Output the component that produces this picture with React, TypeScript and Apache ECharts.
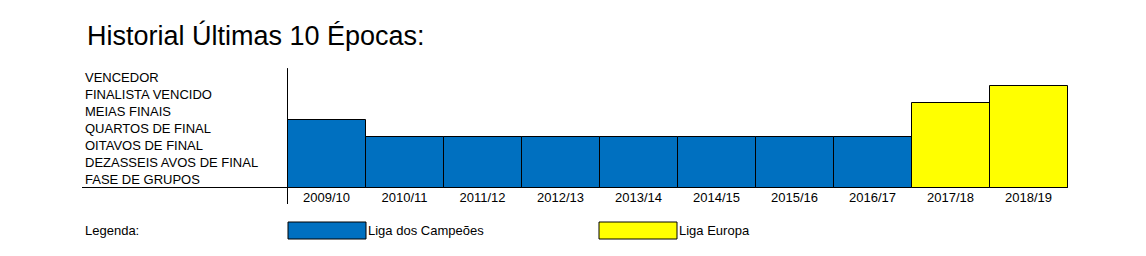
import React, { useEffect, useRef } from "react";
import * as echarts from "echarts";

const seasons = ["2009/10", "2010/11", "2011/12", "2012/13", "2013/14", "2014/15", "2015/16", "2016/17", "2017/18", "2018/19"];
const stages = ["FASE DE GRUPOS", "DEZASSEIS AVOS DE FINAL", "OITAVOS DE FINAL", "QUARTOS DE FINAL", "MEIAS FINAIS", "FINALISTA VENCIDO", "VENCEDOR"];
// stage reached (1 = fase de grupos ... 7 = vencedor)
const championsLeague: (number | null)[] = [4, 3, 3, 3, 3, 3, 3, 3, null, null];
const europaLeague: (number | null)[] = [null, null, null, null, null, null, null, null, 5, 6];
const seriesNames = ["Liga dos Campeões", "Liga Europa"];
const seriesColors = ["#0070C0", "#FFFF00"];
const titleText = "Historial Últimas 10 Épocas:";
const legendLabel = "Legenda:";

const FONT = "'Liberation Sans', Arial, sans-serif";

const toPairs = (vals: (number | null)[]) =>
  vals.map((v, i) => (v == null ? null : [i, v])).filter((d) => d != null);

const renderBar = (params: any, api: any) => {
  const xi = api.value(0);
  const v = api.value(1);
  const base = api.coord([xi, 0]);
  const top = api.coord([xi, v]);
  const w = api.size([1, 0])[0];
  return {
    type: "rect",
    shape: { x: base[0] - w / 2, y: top[1], width: w, height: base[1] - top[1] },
    style: { fill: api.visual("color"), stroke: "#000", lineWidth: 1 },
  };
};

export default function App() {
  const ref = useRef<HTMLDivElement>(null);
  useEffect(() => {
    if (!ref.current) return;
    const chart = echarts.init(ref.current, null, { renderer: "svg" });
    const legendBase = {
      top: 221.5,
      padding: 0,
      icon: "rect",
      itemWidth: 78,
      itemHeight: 17,
      selectedMode: false,
      itemStyle: { borderColor: "#000", borderWidth: 1 },
      textStyle: { color: "#000", fontSize: 13, fontFamily: FONT, padding: [0, 0, 0, -3] },
    };
    chart.setOption({
      animation: false,
      textStyle: { fontFamily: FONT, color: "#000" },
      title: {
        text: titleText,
        left: 87,
        top: 22,
        padding: 0,
        textStyle: { fontFamily: FONT, fontSize: 27, fontWeight: "normal", color: "#000" },
      },
      grid: { left: 287.5, right: 78.5, top: 68.5, bottom: 68.5, containLabel: false },
      xAxis: {
        type: "category",
        data: seasons,
        boundaryGap: true,
        axisLine: { show: true, lineStyle: { color: "#000", width: 1 } },
        axisTick: { show: false },
        axisLabel: { color: "#000", fontSize: 13, fontFamily: FONT, margin: 3 },
      },
      yAxis: [
        {
          type: "value",
          min: 0,
          max: stages.length,
          interval: 1,
          axisLine: { show: true, lineStyle: { color: "#000", width: 1 } },
          axisTick: { show: false },
          axisLabel: { show: false },
          splitLine: { show: false },
        },
        {
          type: "category",
          data: stages,
          position: "left",
          boundaryGap: true,
          axisLine: { show: false },
          axisTick: { show: false },
          splitLine: { show: false },
          axisLabel: { color: "#000", fontSize: 13, fontFamily: FONT, align: "left", margin: 202.5 },
        },
      ],
      legend: [
        { ...legendBase, data: [seriesNames[0]], left: 287.5 },
        { ...legendBase, data: [seriesNames[1]], left: 598.5 },
      ],
      graphic: [
        {
          type: "line",
          shape: { x1: 82, y1: 187.5, x2: 288, y2: 187.5 },
          style: { stroke: "#000", lineWidth: 1 },
          silent: true,
        },
        {
          type: "line",
          shape: { x1: 287.5, y1: 187.5, x2: 287.5, y2: 204 },
          style: { stroke: "#000", lineWidth: 1 },
          silent: true,
        },
        {
          type: "text",
          left: 85,
          top: 224,
          style: { text: legendLabel, fontSize: 13, fontFamily: FONT, fill: "#000" },
        },
      ],
      series: [
        {
          name: seriesNames[0],
          type: "custom",
          renderItem: renderBar,
          encode: { x: 0, y: 1 },
          yAxisIndex: 0,
          data: toPairs(championsLeague),
          itemStyle: { color: seriesColors[0] },
        },
        {
          name: seriesNames[1],
          type: "custom",
          renderItem: renderBar,
          encode: { x: 0, y: 1 },
          yAxisIndex: 0,
          data: toPairs(europaLeague),
          itemStyle: { color: seriesColors[1] },
        },
      ],
    });
    return () => chart.dispose();
  }, []);
  return (
    <div
      ref={ref}
      style={{ position: "fixed", left: 0, top: 0, width: 1146, height: 256, background: "#fff" }}
    />
  );
}
